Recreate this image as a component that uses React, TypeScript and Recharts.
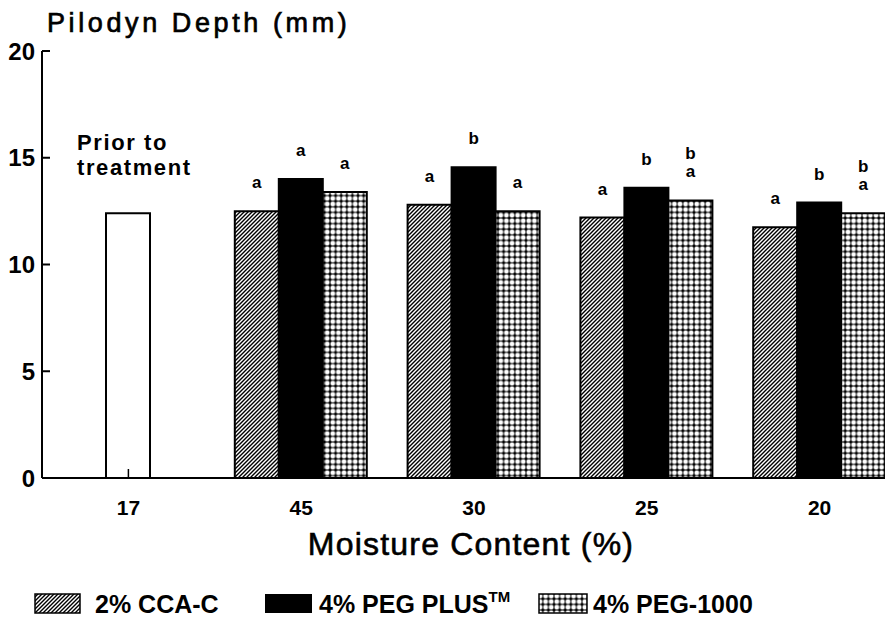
import { Bar, BarChart, LabelList, XAxis, YAxis } from 'recharts';

const moistureLevels = ['17', '45', '30', '25', '20'];
const priorDepth = [12.4, null, null, null, null];
const ccaDepth = [null, 12.5, 12.8, 12.2, 11.75];
const pegPlusDepth = [null, 14.0, 14.55, 13.6, 12.9];
const peg1000Depth = [null, 13.4, 12.5, 13.0, 12.4];
const ccaLetters = ['', 'a', 'a', 'a', 'a'];
const pegPlusLetters = ['', 'a', 'b', 'b', 'b'];
const peg1000Letters = ['', 'a', 'a', 'b a', 'b a'];
const priorNotes = ['Prior to|treatment', '', '', '', ''];
const yTicks = [0, 5, 10, 15, 20];

const rows = moistureLevels.map((level, i) => ({
  level,
  prior: priorDepth[i],
  cca: ccaDepth[i],
  pegPlus: pegPlusDepth[i],
  peg1000: peg1000Depth[i],
  ccaSig: ccaLetters[i],
  pegPlusSig: pegPlusLetters[i],
  peg1000Sig: peg1000Letters[i],
  note: priorNotes[i],
}));

const FONT = '"Liberation Sans", Arial, Helvetica, sans-serif';
const Y_TICK_GAP = 7;
const X_TICK_GAP = 22;

function YTick({ x, y, payload }: { x?: number; y?: number; payload?: { value: number } }) {
  if (x == null || y == null || !payload) return null;
  const axisX = x + Y_TICK_GAP;
  return (
    <g>
      <line x1={axisX} x2={axisX + 8} y1={y} y2={y} stroke="#000" strokeWidth={2} />
      <text x={x} y={y} dy="0.36em" textAnchor="end" fontFamily={FONT} fontWeight="bold" fontSize={24} fill="#000">
        {payload.value}
      </text>
    </g>
  );
}

function XTick({ x, y, payload }: { x?: number; y?: number; payload?: { value: string } }) {
  if (x == null || y == null || !payload) return null;
  const axisY = y - X_TICK_GAP;
  return (
    <g>
      <line x1={x} x2={x} y1={axisY} y2={axisY - 9} stroke="#000" strokeWidth={1.5} />
      <text x={x} y={y} dy="0.71em" textAnchor="middle" fontFamily={FONT} fontWeight="bold" fontSize={21} fill="#000">
        {payload.value}
      </text>
    </g>
  );
}

function readBox(props: any) {
  const vb = props.viewBox ?? props;
  return { x: Number(vb.x), y: Number(vb.y), width: Number(vb.width) };
}

function SigLetters(props: any) {
  const value = String(props.value ?? '');
  if (!value) return null;
  const { x, y, width } = readBox(props);
  const letters = value.split(' ');
  return (
    <g>
      {letters.map((letter, i) => (
        <text
          key={i}
          x={x + width / 2}
          y={y - 23 - (letters.length - 1 - i) * 18}
          textAnchor="middle"
          fontFamily={FONT}
          fontWeight="bold"
          fontSize={17}
          fill="#000"
        >
          {letter}
        </text>
      ))}
    </g>
  );
}

function PriorNote(props: any) {
  const value = String(props.value ?? '');
  if (!value) return null;
  const { x, y } = readBox(props);
  const lines = value.split('|');
  return (
    <g>
      {lines.map((line, i) => (
        <text
          key={i}
          x={x - 29}
          y={y - 63 + i * 25}
          fontFamily={FONT}
          fontWeight="bold"
          fontSize={22}
          letterSpacing={1.6}
          fill="#000"
        >
          {line}
        </text>
      ))}
    </g>
  );
}

export default function App() {
  return (
    <div style={{ position: 'relative', width: 885, height: 612, overflow: 'hidden', background: '#fff', fontFamily: FONT }}>
      <svg width={0} height={0} style={{ position: 'absolute' }}>
        <defs>
          <pattern id="hatchCca" patternUnits="userSpaceOnUse" width={4} height={4}>
            <rect width={4} height={4} fill="#fff" />
            <path d="M-1,1 L1,-1 M0,4 L4,0 M3,5 L5,3" stroke="#000" strokeWidth={1.4} />
          </pattern>
          <pattern id="gridPeg" patternUnits="userSpaceOnUse" width={5.6} height={5.6}>
            <rect width={5.6} height={5.6} fill="#fff" />
            <rect x={0} y={2.3} width={5.6} height={1} fill="#000" />
            <rect x={2.3} y={0} width={1} height={5.6} fill="#000" />
            <rect x={1.5} y={1.5} width={2.6} height={2.6} fill="#000" />
          </pattern>
        </defs>
      </svg>

      <BarChart
        width={900}
        height={530}
        data={rows}
        margin={{ top: 43, right: 2, bottom: 20, left: 0 }}
        barCategoryGap={20}
        barGap={0}
      >
        <Bar dataKey="cca" stackId="left" fill="url(#hatchCca)" stroke="#000" strokeWidth={2} isAnimationActive={false}>
          <LabelList dataKey="ccaSig" content={SigLetters} />
        </Bar>
        <Bar dataKey="pegPlus" stackId="mid" fill="#000" stroke="#000" strokeWidth={2} isAnimationActive={false}>
          <LabelList dataKey="pegPlusSig" content={SigLetters} />
        </Bar>
        <Bar dataKey="prior" stackId="mid" fill="#fff" stroke="#000" strokeWidth={2} isAnimationActive={false}>
          <LabelList dataKey="note" content={PriorNote} />
        </Bar>
        <Bar dataKey="peg1000" stackId="right" fill="url(#gridPeg)" stroke="#000" strokeWidth={2} isAnimationActive={false}>
          <LabelList dataKey="peg1000Sig" content={SigLetters} />
        </Bar>
        <XAxis
          dataKey="level"
          height={40}
          axisLine={{ stroke: '#000', strokeWidth: 2 }}
          tickLine={false}
          tickSize={0}
          tickMargin={X_TICK_GAP}
          tick={<XTick />}
          interval={0}
        />
        <YAxis
          type="number"
          domain={[0, 20]}
          ticks={yTicks}
          width={34}
          axisLine={{ stroke: '#000', strokeWidth: 2 }}
          tickLine={false}
          tickSize={0}
          tickMargin={Y_TICK_GAP}
          tick={<YTick />}
        />
      </BarChart>

      <svg width={885} height={612} style={{ position: 'absolute', left: 0, top: 0, pointerEvents: 'none' }}>
        <text x={39} y={24} fontFamily={FONT} fontSize={27} letterSpacing={3.6} fill="#000" stroke="#000" strokeWidth={0.7}>
          Pilodyn Depth (mm)
        </text>
        <text x={463} y={547} textAnchor="middle" fontFamily={FONT} fontSize={32} letterSpacing={1.2} fill="#000" stroke="#000" strokeWidth={0.6}>
          Moisture Content (%)
        </text>

        <rect x={27} y={586} width={45} height={19} fill="url(#hatchCca)" stroke="#000" strokeWidth={1.5} />
        <text x={87} y={605} fontFamily={FONT} fontWeight="bold" fontSize={25} fill="#000">
          2% CCA-C
        </text>

        <rect x={257} y={586} width={47} height={19} fill="#000" />
        <text x={311} y={605} fontFamily={FONT} fontWeight="bold" fontSize={25} fill="#000">
          4% PEG PLUS
          <tspan fontSize={15} dy={-11}>
            TM
          </tspan>
        </text>

        <rect x={531} y={586} width={48} height={19} fill="url(#gridPeg)" stroke="#000" strokeWidth={1.5} />
        <text x={585} y={605} fontFamily={FONT} fontWeight="bold" fontSize={25} fill="#000">
          4% PEG-1000
        </text>
      </svg>
    </div>
  );
}
